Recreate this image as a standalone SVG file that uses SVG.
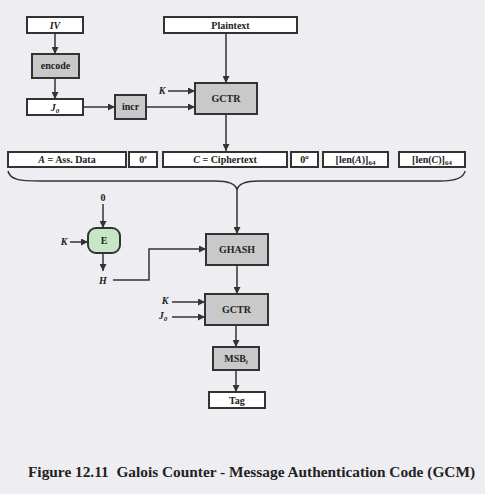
<svg xmlns="http://www.w3.org/2000/svg" width="485" height="494" viewBox="0 0 485 494">
<defs>
<marker id="ah" viewBox="0 0 10 10" refX="10" refY="5" markerWidth="7" markerHeight="7" markerUnits="userSpaceOnUse" orient="auto"><path d="M0,0 L10,5 L0,10 z" fill="#333"/></marker>
<style>
.bx{fill:#fff;stroke:#333;stroke-width:2}
.gb{fill:#c9c9c9;stroke:#333;stroke-width:2}
.eb{fill:#c6e6c6;stroke:#333;stroke-width:2}
.t{font-family:"Liberation Serif",serif;font-weight:bold;font-size:10px;fill:#222;text-anchor:middle}
.i{font-style:italic}
.c{fill:none;stroke:#333;stroke-width:1.5}
.a{fill:none;stroke:#333;stroke-width:1.5;marker-end:url(#ah)}
</style>
</defs>
<rect width="485" height="494" fill="#eeedf2"/>
<g id="connectors">
<path class="a" d="M55,33 V54"/>
<path class="a" d="M55,78 V99"/>
<path class="a" d="M83,107 H115"/>
<path class="a" d="M146,107 H195"/>
<path class="a" d="M168,91 H195"/>
<path class="a" d="M226,33 V83"/>
<path class="a" d="M226,114 V151"/>
<path class="c" d="M8,171 C10,180 20,181 40,181 L215,181 C230,181 236,184 237,190 C238,184 244,181 259,181 L440,181 C458,181 464,177 465,171"/>
<path class="a" d="M237,190 V234"/>
<path class="a" d="M103,204 V228"/>
<path class="a" d="M70,242 H88"/>
<path class="a" d="M103,253 V271"/>
<path class="a" d="M113,280 H149 V249 H206"/>
<path class="a" d="M237,265 V294"/>
<path class="a" d="M172,302 H205"/>
<path class="a" d="M172,317 H205"/>
<path class="a" d="M236,325 V347"/>
<path class="a" d="M236,370 V392"/>
</g>
<g id="iv"><rect class="bx" x="27" y="17" width="56" height="16"/><text class="t i" x="55" y="29">IV</text></g>
<g id="encode"><rect class="gb" x="32" y="54" width="47" height="24"/><text class="t" x="55.5" y="69">encode</text></g>
<g id="j0"><rect class="bx" x="27" y="99" width="56" height="16"/><text class="t i" x="55" y="111">J<tspan font-size="7" dy="2">0</tspan></text></g>
<g id="incr"><rect class="gb" x="115" y="95" width="31" height="24"/><text class="t" x="130.5" y="110">incr</text></g>
<g id="plaintext"><rect class="bx" x="164" y="17" width="133" height="16"/><text class="t" x="230.5" y="29">Plaintext</text></g>
<g id="k1"><text class="t i" x="162" y="94">K</text></g>
<g id="gctr1"><rect class="gb" x="195" y="83" width="62" height="31"/><text class="t" x="226" y="102">GCTR</text></g>
<g id="adata"><rect class="bx" x="8" y="152" width="118" height="15"/><text class="t" x="67" y="163"><tspan font-style="italic">A</tspan> = Ass. Data</text></g>
<g id="zv"><rect class="bx" x="129" y="152" width="28" height="15"/><text class="t" x="143" y="163">0<tspan font-size="6" dy="-4" font-style="italic">v</tspan></text></g>
<g id="ctext"><rect class="bx" x="163" y="152" width="124" height="15"/><text class="t" x="225" y="163"><tspan font-style="italic">C</tspan> = Ciphertext</text></g>
<g id="zu"><rect class="bx" x="291" y="152" width="27" height="15"/><text class="t" x="304.5" y="163">0<tspan font-size="6" dy="-4" font-style="italic">u</tspan></text></g>
<g id="lena"><rect class="bx" x="323" y="152" width="65" height="15"/><text class="t" x="355.5" y="163">[len(<tspan font-style="italic">A</tspan>)]<tspan font-size="7" dy="2">64</tspan></text></g>
<g id="lenc"><rect class="bx" x="399" y="152" width="66" height="15"/><text class="t" x="432" y="163">[len(<tspan font-style="italic">C</tspan>)]<tspan font-size="7" dy="2">64</tspan></text></g>
<g id="zero"><text class="t" x="103" y="201">0</text></g>
<g id="k2"><text class="t i" x="64" y="245">K</text></g>
<g id="e"><rect class="eb" x="88" y="228" width="32" height="25" rx="8"/><text class="t" x="104" y="244">E</text></g>
<g id="h"><text class="t i" x="103" y="284">H</text></g>
<g id="ghash"><rect class="gb" x="206" y="234" width="62" height="31"/><text class="t" x="237" y="253">GHASH</text></g>
<g id="k3"><text class="t i" x="165" y="304">K</text></g>
<g id="j0b"><text class="t i" x="163" y="319">J<tspan font-size="7" dy="2">0</tspan></text></g>
<g id="gctr2"><rect class="gb" x="205" y="294" width="63" height="31"/><text class="t" x="236.5" y="313">GCTR</text></g>
<g id="msb"><rect class="gb" x="213" y="347" width="46" height="23"/><text class="t" x="236" y="362">MSB<tspan font-size="7" dy="2" font-style="italic">t</tspan></text></g>
<g id="tag"><rect class="bx" x="209" y="392" width="56" height="16"/><text class="t" x="237" y="404">Tag</text></g>
<text x="28" y="477" font-family="&quot;Liberation Serif&quot;,serif" font-weight="bold" font-size="14.5" fill="#222" textLength="447" lengthAdjust="spacingAndGlyphs">Figure 12.11&#160; Galois Counter - Message Authentication Code (GCM)</text>
</svg>
